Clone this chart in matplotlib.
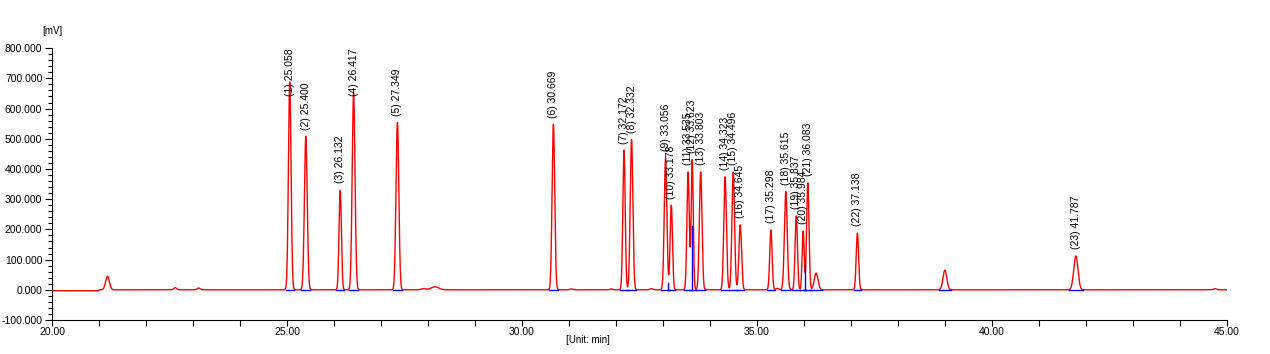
import numpy as np
import matplotlib
matplotlib.use("Agg")
import matplotlib.pyplot as plt
from matplotlib.ticker import MultipleLocator, FormatStrFormatter

plt.rcParams['font.family'] = ['Liberation Sans', 'DejaVu Sans']

# labelled peaks: retention time (min), height (mV), width (sigma, min)
peak_rt = [25.058, 25.400, 26.132, 26.417, 27.349, 30.669, 32.172, 32.332,
           33.056, 33.178, 33.535, 33.623, 33.803, 34.323, 34.496, 34.645,
           35.298, 35.615, 35.837, 35.984, 36.083, 37.138, 41.787]
peak_height = [688, 508, 330, 652, 555, 548, 462, 497,
               437, 280, 390, 430, 390, 374, 390, 215,
               198, 325, 245, 195, 354, 188, 112]
peak_sigma = [0.028, 0.03, 0.025, 0.03, 0.03, 0.028, 0.025, 0.028,
              0.028, 0.025, 0.025, 0.022, 0.028, 0.028, 0.028, 0.028,
              0.025, 0.03, 0.025, 0.022, 0.025, 0.025, 0.045]

# small unlabelled peaks
minor_rt = [21.18, 22.62, 23.12, 27.9, 28.15, 31.05, 31.9, 32.75, 35.43, 36.26, 39.0, 44.75]
minor_height = [45, 7, 6, 4, 10, 3, 3, 4, 5, 55, 65, 4]
minor_sigma = [0.04, 0.03, 0.03, 0.05, 0.08, 0.03, 0.03, 0.03, 0.03, 0.04, 0.04, 0.03]

# integration drop lines (time, top in mV)
drop_rt = [33.11, 33.623, 36.02]
drop_top = [23, 210, 83]

x = np.linspace(20.0, 45.0, 6000)
y = np.where(x < 21.0, -3.0, 0.0)
for rt, h, s in zip(peak_rt + minor_rt, peak_height + minor_height, peak_sigma + minor_sigma):
    y = y + h * np.exp(-0.5 * ((x - rt) / s) ** 2)

fig = plt.figure(figsize=(12.7, 3.54), dpi=100)
ax = fig.add_axes([0.041, 0.096, 0.925, 0.768])

ax.plot(x, y, color='#FF0000', lw=1.0)

# baselines under peaks
for rt, s in zip(peak_rt + [36.26, 39.0], peak_sigma + [0.04, 0.04]):
    ax.plot([rt - 3.2 * s, rt + 3.2 * s], [0.5, 0.5], color='#0000FF', lw=1.0)
for rt, top in zip(drop_rt, drop_top):
    ax.plot([rt, rt], [0, top], color='#0000FF', lw=1.0)

for i, (rt, h) in enumerate(zip(peak_rt, peak_height)):
    ybase = min(h + 22, 640)
    ax.text(rt, ybase, "(%d) %.3f" % (i + 1, rt), rotation=90, ha='center',
            va='bottom', fontsize=7.5, color='#000000')

ax.set_xlim(20, 45)
ax.set_ylim(-100, 800)
ax.xaxis.set_major_locator(MultipleLocator(5))
ax.xaxis.set_minor_locator(MultipleLocator(1))
ax.yaxis.set_major_locator(MultipleLocator(100))
ax.yaxis.set_minor_locator(MultipleLocator(20))
ax.xaxis.set_major_formatter(FormatStrFormatter('%.2f'))
ax.yaxis.set_major_formatter(FormatStrFormatter('%.3f'))
ax.tick_params(axis='both', which='major', labelsize=7.5, width=0.8, direction='out')
ax.tick_params(axis='x', which='both', length=4, width=0.8, pad=1)
ax.tick_params(axis='y', which='major', length=5, pad=2)
ax.tick_params(axis='y', which='minor', length=3, width=0.8)
ax.spines['top'].set_visible(False)
ax.spines['right'].set_visible(False)

fig.text(0.033, 0.905, "[mV]", fontsize=7)
fig.text(0.446, 0.03, "[Unit: min]", fontsize=7)

fig.savefig("out.png", dpi=100)
